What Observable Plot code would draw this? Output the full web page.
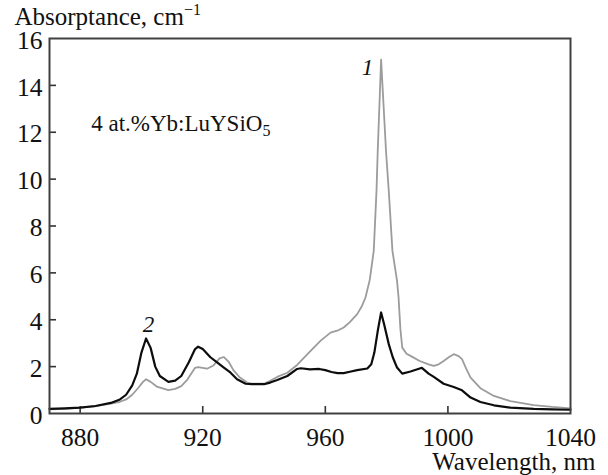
<!DOCTYPE html>
<html>
<head>
<meta charset="utf-8">
<script src="https://cdn.jsdelivr.net/npm/d3@7"></script>
<script src="https://cdn.jsdelivr.net/npm/@observablehq/plot@0.6"></script>
<style>
  html, body { margin: 0; padding: 0; background: #fff; }
</style>
</head>
<body>
<div id="chart"></div>
<script>
// Curve 2 (black)
const wl2 = [870, 875, 880, 885, 890, 893, 895, 897, 898.5, 900, 901.5, 903, 904.5, 906, 908.8, 911, 913, 915.5, 917.5, 918.5, 920, 922.5, 925, 927, 929, 931.2, 934, 936, 940, 942, 944.3, 947.6, 950.8, 952, 955, 958, 960, 962, 964, 966, 968, 970.4, 973.7, 975, 976, 977.2, 978.2, 979.2, 980.7, 982, 983.4, 985.1, 987.8, 990.8, 991.5, 993.7, 995.4, 998.6, 1001.9, 1004.6, 1007.4, 1010.6, 1015, 1020.4, 1028, 1034, 1040];
const ab2 = [0.2, 0.22, 0.25, 0.32, 0.45, 0.6, 0.8, 1.2, 1.7, 2.6, 3.2, 2.8, 2.0, 1.6, 1.35, 1.4, 1.6, 2.2, 2.75, 2.85, 2.75, 2.4, 2.15, 1.95, 1.75, 1.46, 1.27, 1.25, 1.25, 1.32, 1.43, 1.6, 1.9, 1.93, 1.88, 1.9, 1.85, 1.77, 1.72, 1.72, 1.78, 1.85, 1.92, 2.1, 2.6, 3.6, 4.31, 3.8, 2.96, 2.4, 1.96, 1.7, 1.79, 1.92, 1.95, 1.7, 1.56, 1.27, 1.13, 0.99, 0.68, 0.49, 0.35, 0.25, 0.2, 0.18, 0.16];
// Curve 1 (gray)
const wl1 = [870, 875, 880, 885, 890, 893, 895, 897, 899, 900.5, 901.5, 903, 905, 908.8, 911, 913, 915, 917.5, 918.5, 921.4, 923.5, 925.5, 926.9, 928.5, 930, 932, 934.5, 936, 940, 942, 944.3, 947.6, 950.8, 955.2, 958.4, 961.7, 964.4, 966, 968, 970.4, 972, 973.1, 974.5, 975.8, 976.7, 977.1, 978.2, 979.8, 980.7, 981.9, 983.4, 983.9, 984.5, 985.1, 986.5, 987.8, 990.8, 993.7, 995.4, 997, 998.6, 1000.5, 1001.9, 1003.5, 1004.6, 1006, 1007.4, 1010.6, 1015, 1020.4, 1028, 1034, 1040];
const ab1 = [0.18, 0.2, 0.25, 0.31, 0.42, 0.5, 0.6, 0.8, 1.1, 1.35, 1.46, 1.35, 1.15, 1.0, 1.05, 1.17, 1.45, 1.95, 1.98, 1.91, 2.05, 2.35, 2.41, 2.2, 1.85, 1.55, 1.32, 1.27, 1.27, 1.4, 1.56, 1.74, 2.07, 2.67, 3.1, 3.45, 3.56, 3.67, 3.9, 4.24, 4.6, 4.95, 5.7, 6.94, 9.5, 11.2, 15.1, 11.2, 9.5, 6.94, 5.66, 4.95, 3.6, 2.81, 2.55, 2.46, 2.24, 2.1, 2.03, 2.1, 2.24, 2.42, 2.53, 2.45, 2.32, 1.9, 1.53, 1.08, 0.75, 0.53, 0.36, 0.28, 0.22];

const xTicks = [880, 920, 960, 1000, 1040];
const yTicks = [0, 2, 4, 6, 8, 10, 12, 14, 16];

const curveLabels = ["1", "2"];
const curveLabelX = [973.8, 902.3];
const curveLabelY = [14.75, 3.8];

const sampleText = "4 at.%Yb:LuYSiO";
const sampleSub = "5";
const sampleX = 883.6;
const sampleY = 12.05;

const yTitle = "Absorptance, cm";
const yTitleSup = "−1";
const xTitle = "Wavelength, nm";

const s2 = wl2.map((w, i) => ({w, a: ab2[i]}));
const s1 = wl1.map((w, i) => ({w, a: ab1[i]}));
const labs = curveLabels.map((t, i) => ({t, x: curveLabelX[i], y: curveLabelY[i]}));

const W = 608, H = 475;
const mL = 49, mR = 38, mT = 38, mB = 62;
const innerW = W - mL - mR, innerH = H - mT - mB;

const plot = Plot.plot({
  width: W,
  height: H,
  marginLeft: mL,
  marginRight: mR,
  marginTop: mT,
  marginBottom: mB,
  style: {fontFamily: "'Liberation Serif', 'Times New Roman', serif", fontSize: "25px", background: "#fff", color: "#111"},
  x: {domain: [870, 1040], ticks: xTicks, label: null},
  y: {domain: [0, 16], ticks: yTicks, label: null},
  marks: [
    Plot.axisX({ticks: xTicks, tickSize: 0, tickPadding: 14, label: null, fontSize: 25.5, anchor: "bottom", tickFormat: d => String(d)}),
    Plot.axisY({ticks: yTicks, tickSize: 0, tickPadding: 7, label: null, fontSize: 25.5, anchor: "left", dy: 2, tickFormat: d => String(d)}),
    Plot.tickX(xTicks.slice(0, -1), {x: d => d, insetTop: innerH - 7, stroke: "#333", strokeWidth: 1.6}),
    Plot.tickY(yTicks.slice(1, -1), {y: d => d, insetRight: innerW - 7, stroke: "#333", strokeWidth: 1.6}),
    Plot.line(s1, {x: "w", y: "a", stroke: "#9c9c9c", strokeWidth: 1.8}),
    Plot.line(s2, {x: "w", y: "a", stroke: "#0d0d0d", strokeWidth: 2.2}),
    Plot.frame({stroke: "#404040", strokeWidth: 2}),
    Plot.text(labs, {x: "x", y: "y", text: "t", fontSize: 23, fontStyle: "italic", fill: "#111"}),
    Plot.text([sampleText], {x: () => sampleX, y: () => sampleY, text: d => d, textAnchor: "start", lineAnchor: "bottom", fontSize: 23, fill: "#111"}),
    Plot.text([yTitle], {frameAnchor: "top-left", text: d => d, textAnchor: "start", lineAnchor: "bottom", dx: -35, dy: -14, fontSize: 25, fill: "#111"}),
    Plot.text([xTitle], {frameAnchor: "bottom-right", text: d => d, textAnchor: "end", lineAnchor: "bottom", dx: 25, dy: 56, fontSize: 25, fill: "#111"})
  ]
});

document.getElementById("chart").appendChild(plot);

// Add superscript / subscript parts as tspans
d3.select(plot).selectAll("text").each(function() {
  const el = d3.select(this);
  if (this.textContent === yTitle) {
    el.append("tspan").attr("dy", -10).attr("font-size", 16).text(yTitleSup);
  } else if (this.textContent === sampleText) {
    el.append("tspan").attr("dy", 5).attr("font-size", 16).text(sampleSub);
  }
});
</script>
</body>
</html>
